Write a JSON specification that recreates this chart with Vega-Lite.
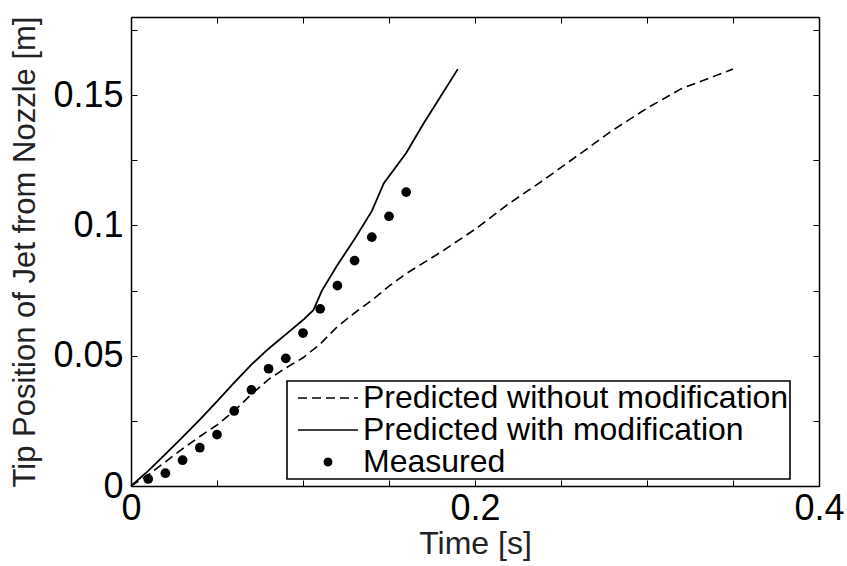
{
  "$schema": "https://vega.github.io/schema/vega-lite/v6.json",
  "width": 688,
  "height": 469,
  "autosize": {"type": "none"},
  "padding": {"left": 131, "top": 17, "right": 28, "bottom": 80},
  "background": "white",
  "config": {
    "view": {"stroke": null},
    "font": "Liberation Sans",
    "axis": {
      "domainColor": "black",
      "domainWidth": 1.5,
      "tickColor": "black",
      "tickWidth": 1,
      "tickSize": -6,
      "grid": false,
      "labelFont": "Liberation Sans",
      "labelFontSize": 36,
      "labelColor": "black",
      "titleFont": "Liberation Sans",
      "titleFontSize": 32,
      "titleFontWeight": "normal",
      "titleColor": "#222"
    }
  },
  "datasets": {
    "without": [
      {"t": 0, "y": 0, "series": "Predicted without modification"},
      {"t": 0.01, "y": 0.0043, "series": "Predicted without modification"},
      {"t": 0.02, "y": 0.0093, "series": "Predicted without modification"},
      {"t": 0.03, "y": 0.0143, "series": "Predicted without modification"},
      {"t": 0.04, "y": 0.019, "series": "Predicted without modification"},
      {"t": 0.05, "y": 0.0234, "series": "Predicted without modification"},
      {"t": 0.06, "y": 0.0288, "series": "Predicted without modification"},
      {"t": 0.07, "y": 0.0352, "series": "Predicted without modification"},
      {"t": 0.08, "y": 0.0409, "series": "Predicted without modification"},
      {"t": 0.09, "y": 0.0453, "series": "Predicted without modification"},
      {"t": 0.1, "y": 0.0492, "series": "Predicted without modification"},
      {"t": 0.11, "y": 0.0545, "series": "Predicted without modification"},
      {"t": 0.12, "y": 0.0612, "series": "Predicted without modification"},
      {"t": 0.13, "y": 0.0664, "series": "Predicted without modification"},
      {"t": 0.14, "y": 0.0713, "series": "Predicted without modification"},
      {"t": 0.15, "y": 0.0767, "series": "Predicted without modification"},
      {"t": 0.16, "y": 0.0815, "series": "Predicted without modification"},
      {"t": 0.18, "y": 0.0897, "series": "Predicted without modification"},
      {"t": 0.2, "y": 0.0985, "series": "Predicted without modification"},
      {"t": 0.22, "y": 0.1085, "series": "Predicted without modification"},
      {"t": 0.24, "y": 0.1175, "series": "Predicted without modification"},
      {"t": 0.26, "y": 0.127, "series": "Predicted without modification"},
      {"t": 0.28, "y": 0.1365, "series": "Predicted without modification"},
      {"t": 0.3, "y": 0.145, "series": "Predicted without modification"},
      {"t": 0.32, "y": 0.1525, "series": "Predicted without modification"},
      {"t": 0.34, "y": 0.1575, "series": "Predicted without modification"},
      {"t": 0.35, "y": 0.16, "series": "Predicted without modification"}
    ],
    "with": [
      {"t": 0, "y": 0, "series": "Predicted with modification"},
      {"t": 0.01, "y": 0.0058, "series": "Predicted with modification"},
      {"t": 0.02, "y": 0.0122, "series": "Predicted with modification"},
      {"t": 0.03, "y": 0.0188, "series": "Predicted with modification"},
      {"t": 0.04, "y": 0.0255, "series": "Predicted with modification"},
      {"t": 0.05, "y": 0.0325, "series": "Predicted with modification"},
      {"t": 0.06, "y": 0.0397, "series": "Predicted with modification"},
      {"t": 0.07, "y": 0.0466, "series": "Predicted with modification"},
      {"t": 0.08, "y": 0.0527, "series": "Predicted with modification"},
      {"t": 0.09, "y": 0.0582, "series": "Predicted with modification"},
      {"t": 0.1, "y": 0.0637, "series": "Predicted with modification"},
      {"t": 0.106, "y": 0.0675, "series": "Predicted with modification"},
      {"t": 0.108, "y": 0.0705, "series": "Predicted with modification"},
      {"t": 0.111, "y": 0.075, "series": "Predicted with modification"},
      {"t": 0.12, "y": 0.0848, "series": "Predicted with modification"},
      {"t": 0.13, "y": 0.0948, "series": "Predicted with modification"},
      {"t": 0.14, "y": 0.1055, "series": "Predicted with modification"},
      {"t": 0.147, "y": 0.1162, "series": "Predicted with modification"},
      {"t": 0.16, "y": 0.1278, "series": "Predicted with modification"},
      {"t": 0.17, "y": 0.139, "series": "Predicted with modification"},
      {"t": 0.18, "y": 0.1495, "series": "Predicted with modification"},
      {"t": 0.19, "y": 0.16, "series": "Predicted with modification"}
    ],
    "measured": [
      {"t": 0.01, "y": 0.0027, "series": "Measured"},
      {"t": 0.02, "y": 0.0049, "series": "Measured"},
      {"t": 0.03, "y": 0.0099, "series": "Measured"},
      {"t": 0.04, "y": 0.0147, "series": "Measured"},
      {"t": 0.05, "y": 0.0197, "series": "Measured"},
      {"t": 0.06, "y": 0.0288, "series": "Measured"},
      {"t": 0.07, "y": 0.0369, "series": "Measured"},
      {"t": 0.08, "y": 0.045, "series": "Measured"},
      {"t": 0.09, "y": 0.049, "series": "Measured"},
      {"t": 0.1, "y": 0.0587, "series": "Measured"},
      {"t": 0.11, "y": 0.068, "series": "Measured"},
      {"t": 0.12, "y": 0.0769, "series": "Measured"},
      {"t": 0.13, "y": 0.0865, "series": "Measured"},
      {"t": 0.14, "y": 0.0955, "series": "Measured"},
      {"t": 0.15, "y": 0.1035, "series": "Measured"},
      {"t": 0.16, "y": 0.1128, "series": "Measured"}
    ]
  },
  "layer": [
    {
      "data": {"name": "without"},
      "mark": {"type": "line", "strokeDash": [9, 5], "strokeWidth": 1.6},
      "encoding": {
        "x": {
          "field": "t", "type": "quantitative",
          "scale": {"domain": [0, 0.4], "nice": false, "zero": false},
          "axis": {
            "orient": "bottom",
            "title": "Time [s]",
            "values": [0, 0.05, 0.1, 0.15, 0.2, 0.25, 0.3, 0.35, 0.4],
            "labelExpr": "abs(datum.value*5 - round(datum.value*5)) < 0.001 ? format(datum.value, '~g') : ''",
            "labelPadding": 11,
            "labelFlush": false,
            "titlePadding": 2
          }
        },
        "y": {
          "field": "y", "type": "quantitative",
          "scale": {"domain": [0, 0.18], "nice": false, "zero": false},
          "axis": {
            "orient": "left",
            "title": "Tip Position of Jet from Nozzle [m]",
            "titleFontSize": 31,
            "values": [0, 0.025, 0.05, 0.075, 0.1, 0.125, 0.15, 0.175],
            "labelExpr": "abs(datum.value*20 - round(datum.value*20)) < 0.001 ? format(datum.value, '~g') : ''",
            "labelPadding": 14,
            "labelFlush": false,
            "titlePadding": 11
          }
        },
        "color": {
          "field": "series", "type": "nominal",
          "scale": {
            "domain": ["Predicted without modification", "Predicted with modification", "Measured"],
            "range": ["black", "black", "black"]
          },
          "legend": {
            "orient": "none",
            "legendX": 156,
            "legendY": 364,
            "title": null,
            "symbolType": "stroke",
            "symbolSize": 3600,
            "symbolStrokeWidth": 1.6,
            "symbolOffset": 24,
            "labelFont": "Liberation Sans",
            "labelFontSize": 32,
            "labelColor": "black",
            "labelOffset": 19,
            "rowPadding": 0,
            "padding": 1,
            "strokeColor": "black",
            "fillColor": "white",
            "cornerRadius": 0,
            "labelLimit": 700,
            "encode": {
              "legend": {"update": {"strokeWidth": {"value": 1.6}}},
              "symbols": {
                "update": {
                  "size": {"value": 3600},
                  "shape": {"signal": "datum.value === 'Measured' ? 'M0.15,0L0.13,0.075L0.075,0.13L0,0.15L-0.075,0.13L-0.13,0.075L-0.15,0L-0.13,-0.075L-0.075,-0.13L0,-0.15L0.075,-0.13L0.13,-0.075Z' : 'stroke'"},
                  "fill": {"signal": "datum.value === 'Measured' ? 'black' : 'transparent'"},
                  "stroke": {"value": "black"},
                  "strokeWidth": {"signal": "datum.value === 'Measured' ? 0 : 1.6"},
                  "strokeDash": {"signal": "datum.value === 'Predicted without modification' ? [9, 5] : [1, 0]"},
                  "opacity": {"value": 1}
                }
              }
            }
          }
        }
      }
    },
    {
      "data": {"name": "with"},
      "mark": {"type": "line", "strokeWidth": 1.8},
      "encoding": {
        "x": {
          "field": "t", "type": "quantitative",
          "axis": {
            "orient": "top", "title": null, "labels": false,
            "values": [0, 0.05, 0.1, 0.15, 0.2, 0.25, 0.3, 0.35, 0.4]
          }
        },
        "y": {
          "field": "y", "type": "quantitative",
          "axis": {
            "orient": "right", "title": null, "labels": false,
            "values": [0, 0.025, 0.05, 0.075, 0.1, 0.125, 0.15, 0.175]
          }
        },
        "color": {"field": "series", "type": "nominal"}
      }
    },
    {
      "data": {"name": "measured"},
      "mark": {"type": "point", "shape": "circle", "filled": true, "size": 95, "opacity": 1},
      "encoding": {
        "x": {"field": "t", "type": "quantitative", "axis": null},
        "y": {"field": "y", "type": "quantitative", "axis": null},
        "color": {"field": "series", "type": "nominal"}
      }
    }
  ],
  "resolve": {"axis": {"x": "independent", "y": "independent"}}
}
